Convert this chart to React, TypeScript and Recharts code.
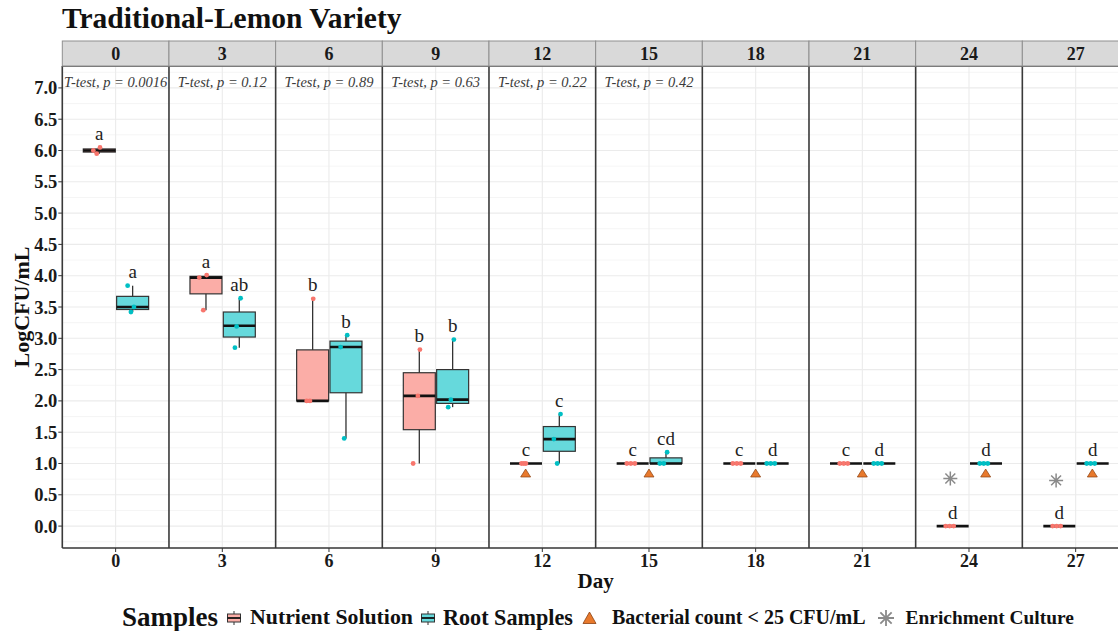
import React from "react";
import {
  ComposedChart,
  Bar,
  Scatter,
  XAxis,
  YAxis,
  CartesianGrid,
  ReferenceLine,
  Legend,
} from "recharts";

const FONT = '"Liberation Serif", "Times New Roman", serif';

// facet labels (day of sampling)
const days = ["0", "3", "6", "9", "12", "15", "18", "21", "24", "27"];

// box stats per day: [min, q1, median, q3, max]
const nutrientBox = [
  [5.95, 5.975, 6.0, 6.025, 6.05],
  [3.45, 3.71, 3.97, 3.99, 4.01],
  [2.0, 2.0, 2.0, 2.815, 3.63],
  [1.0, 1.54, 2.08, 2.45, 2.82],
  [1, 1, 1, 1, 1],
  [1, 1, 1, 1, 1],
  [1, 1, 1, 1, 1],
  [1, 1, 1, 1, 1],
  [0, 0, 0, 0, 0],
  [0, 0, 0, 0, 0],
];
const rootBox = [
  [3.42, 3.46, 3.5, 3.67, 3.84],
  [2.85, 3.02, 3.2, 3.42, 3.64],
  [1.4, 2.13, 2.86, 2.955, 3.05],
  [1.9, 1.96, 2.02, 2.5, 2.98],
  [1.0, 1.195, 1.39, 1.59, 1.79],
  [1.0, 1.0, 1.0, 1.09, 1.18],
  [1, 1, 1, 1, 1],
  [1, 1, 1, 1, 1],
  [1, 1, 1, 1, 1],
  [1, 1, 1, 1, 1],
];

// compact letter display
const nutrientLetters = ["a", "a", "b", "b", "c", "c", "c", "c", "d", "d"];
const rootLetters = ["a", "ab", "b", "b", "c", "cd", "d", "d", "d", "d"];

// t-test results (first six days only)
const pValues = ["0.0016", "0.12", "0.89", "0.63", "0.22", "0.42"];

// jittered replicates (x in facet units, y = LogCFU/mL)
const nutrientPoints = [
  { x: 0.349, y: 6.0 }, { x: 0.387, y: 5.95 }, { x: 0.424, y: 6.05 },
  { x: 1.541, y: 3.97 }, { x: 1.624, y: 4.01 }, { x: 1.586, y: 3.45 },
  { x: 2.823, y: 3.63 }, { x: 2.749, y: 2.0 }, { x: 2.786, y: 2.0 },
  { x: 4.023, y: 2.82 }, { x: 3.947, y: 1.0 }, { x: 4.0, y: 2.08 },
  { x: 5.166, y: 1 }, { x: 5.215, y: 1 }, { x: 5.192, y: 1 },
  { x: 6.351, y: 1 }, { x: 6.396, y: 1 }, { x: 6.441, y: 1 },
  { x: 7.543, y: 1 }, { x: 7.588, y: 1 }, { x: 7.633, y: 1 },
  { x: 8.746, y: 1 }, { x: 8.791, y: 1 }, { x: 8.836, y: 1 },
  { x: 9.938, y: 0 }, { x: 9.983, y: 0 }, { x: 10.028, y: 0 },
  { x: 11.141, y: 0 }, { x: 11.186, y: 0 }, { x: 11.231, y: 0 },
];
const rootPoints = [
  { x: 0.735, y: 3.84 }, { x: 0.772, y: 3.42 }, { x: 0.806, y: 3.5 },
  { x: 2.006, y: 3.64 }, { x: 1.961, y: 3.19 }, { x: 1.942, y: 2.85 },
  { x: 3.205, y: 3.05 }, { x: 3.131, y: 2.86 }, { x: 3.171, y: 1.4 },
  { x: 4.405, y: 2.98 }, { x: 4.341, y: 1.9 }, { x: 4.371, y: 2.02 },
  { x: 5.605, y: 1.79 }, { x: 5.567, y: 1.0 }, { x: 5.53, y: 1.39 },
  { x: 6.804, y: 1.18 }, { x: 6.722, y: 1.0 }, { x: 6.767, y: 1.0 },
  { x: 7.925, y: 1 }, { x: 7.97, y: 1 }, { x: 8.015, y: 1 },
  { x: 9.128, y: 1 }, { x: 9.173, y: 1 }, { x: 9.218, y: 1 },
  { x: 10.321, y: 1 }, { x: 10.366, y: 1 }, { x: 10.411, y: 1 },
  { x: 11.524, y: 1 }, { x: 11.569, y: 1 }, { x: 11.614, y: 1 },
];

// bacterial count < 25 CFU/mL markers
const lowCountMarks = [
  { x: 5.2125, y: 0.84 },
  { x: 6.6, y: 0.84 },
  { x: 7.8, y: 0.84 },
  { x: 9.0, y: 0.84 },
  { x: 10.3875, y: 0.84 },
  { x: 11.5875, y: 0.84 },
];

// enrichment culture markers
const enrichmentMarks = [
  { x: 9.99, y: 0.76 },
  { x: 11.18, y: 0.73 },
];

const yTicks = [0, 0.5, 1, 1.5, 2, 2.5, 3, 3.5, 4, 4.5, 5, 5.5, 6, 6.5, 7];
const yMinorTicks = [-0.25, 0.25, 0.75, 1.25, 1.75, 2.25, 2.75, 3.25, 3.75, 4.25, 4.75, 5.25, 5.75, 6.25, 6.75, 7.25];

// layout
const PANEL = 1.2; // x units per facet
const DODGE = 0.1875;
const Y_DOMAIN: [number, number] = [-0.35, 7.35];
const X_DOMAIN: [number, number] = [0, days.length * PANEL];
const PLOT_LEFT = 62.3;
const PLOT_RIGHT = 1129;
const PANEL_PX = (PLOT_RIGHT - PLOT_LEFT) / days.length;

const NUT_FILL = "#fbada7";
const ROOT_FILL = "#66d9dc";
const NUT_DOT = "#F8766D";
const ROOT_DOT = "#00BFC4";
const BORDER = "#3a3a3a";

const centers = days.map((_, i) => i * PANEL + PANEL / 2);
const borders = [...days.map((_, i) => i * PANEL), days.length * PANEL];
const pLabels = pValues.map((p, i) => ({ x: centers[i], y: 7.09, label: `T-test, p = ${p}` }));

const boxRows = days.flatMap((_, i) => [
  {
    x: centers[i] - DODGE,
    whisker: [nutrientBox[i][0], nutrientBox[i][4]],
    box: [nutrientBox[i][1], nutrientBox[i][3]],
    median: nutrientBox[i][2],
    fill: NUT_FILL,
    letter: nutrientLetters[i],
  },
  {
    x: centers[i] + DODGE,
    whisker: [rootBox[i][0], rootBox[i][4]],
    box: [rootBox[i][1], rootBox[i][3]],
    median: rootBox[i][2],
    fill: ROOT_FILL,
    letter: rootLetters[i],
  },
]);

const WhiskerShape = (props: any) => {
  const { x, y, width, height } = props;
  const p = props.payload ?? props;
  const top = Math.min(y, y + height);
  const h = Math.abs(height);
  const cx = x + width / 2;
  return (
    <g>
      <line x1={cx} x2={cx} y1={top} y2={top + h} stroke="#333" strokeWidth={1.3} />
      <text x={cx} y={top - 14} textAnchor="middle" dominantBaseline="central" fontFamily={FONT} fontSize={19} fill="#222">
        {p.letter}
      </text>
    </g>
  );
};

const BoxShape = (props: any) => {
  const { x, y, width, height } = props;
  const p = props.payload ?? props;
  const top = Math.min(y, y + height);
  const h = Math.abs(height);
  const [q1, q3] = p.box;
  const my = q3 > q1 ? top + (h * (q3 - p.median)) / (q3 - q1) : top;
  return (
    <g>
      <rect x={x} y={top} width={width} height={h} fill={p.fill} stroke="#333" strokeWidth={1.2} />
      <line x1={x} x2={x + width} y1={my} y2={my} stroke="#111" strokeWidth={2.6} />
    </g>
  );
};

const dotShape = (color: string) => (props: any) => <circle cx={props.cx} cy={props.cy} r={2.4} fill={color} />;

const TriangleShape = (props: any) => {
  const { cx, cy } = props;
  return <path d={`M${cx},${cy - 4.5} L${cx + 5},${cy + 3.5} L${cx - 5},${cy + 3.5} Z`} fill="#E8792C" stroke="#8a4010" strokeWidth={0.7} />;
};

const asteriskPath = (cx: number, cy: number, r: number) => {
  const d = r * 0.7071;
  return `M${cx},${cy - r}L${cx},${cy + r}M${cx - r},${cy}L${cx + r},${cy}M${cx - d},${cy - d}L${cx + d},${cy + d}M${cx - d},${cy + d}L${cx + d},${cy - d}`;
};

const AsteriskShape = (props: any) => <path d={asteriskPath(props.cx, props.cy, 7)} stroke="#8a8a8a" strokeWidth={1.5} fill="none" />;

const PLabelShape = (props: any) => (
  <text x={props.cx} y={props.cy} textAnchor="middle" dominantBaseline="central" fontFamily={FONT} fontStyle="italic" fontSize={14.5} fill="#3a3a3a">
    {(props.payload ?? props).label}
  </text>
);

const StripTick = (props: any) => {
  const { x, y, index } = props;
  return (
    <g>
      <rect x={x - PANEL_PX / 2} y={y - 25} width={PANEL_PX} height={25} fill="#d9d9d9" stroke="#8f8f8f" strokeWidth={1} />
      <text x={x} y={y - 12} textAnchor="middle" dominantBaseline="central" fontFamily={FONT} fontWeight="bold" fontSize={18} fill="#1a1a1a">
        {days[index]}
      </text>
    </g>
  );
};

const YTitle = (props: any) => {
  const vb = props.viewBox ?? { x: 0, y: 66, width: 62, height: 482 };
  const cx = vb.x + 21;
  const cy = vb.y + vb.height / 2;
  return (
    <text x={cx} y={cy} transform={`rotate(-90 ${cx} ${cy})`} textAnchor="middle" dominantBaseline="central" fontFamily={FONT} fontWeight="bold" fontSize={22} fill="#111">
      LogCFU/mL
    </text>
  );
};

const BoxKey = ({ fill }: { fill: string }) => (
  <svg width={16} height={14} style={{ display: "block" }}>
    <line x1={8} x2={8} y1={0} y2={14} stroke="#333" strokeWidth={1} />
    <rect x={1.5} y={3} width={13} height={8} fill={fill} stroke="#333" strokeWidth={1} />
    <line x1={1.5} x2={14.5} y1={7} y2={7} stroke="#111" strokeWidth={1.8} />
  </svg>
);

const LegendContent = () => (
  <div
    style={{
      display: "flex",
      alignItems: "center",
      height: 38,
      paddingTop: 11,
      paddingLeft: 122,
      boxSizing: "border-box",
      fontFamily: FONT,
      fontWeight: "bold",
      color: "#111",
      whiteSpace: "nowrap",
      lineHeight: "27px",
    }}
  >
    <span style={{ fontSize: 27 }}>Samples</span>
    <span style={{ marginLeft: 8 }}><BoxKey fill={NUT_FILL} /></span>
    <span style={{ fontSize: 21.8, marginLeft: 8 }}>Nutrient Solution</span>
    <span style={{ marginLeft: 7 }}><BoxKey fill={ROOT_FILL} /></span>
    <span style={{ fontSize: 22.2, marginLeft: 7 }}>Root Samples</span>
    <span style={{ marginLeft: 9 }}>
      <svg width={15} height={14} style={{ display: "block" }}>
        <path d="M7.5,1 L14,12.5 L1,12.5 Z" fill="#E8792C" stroke="#8a4010" strokeWidth={0.8} />
      </svg>
    </span>
    <span style={{ fontSize: 20, marginLeft: 15 }}>Bacterial count &lt; 25 CFU/mL</span>
    <span style={{ marginLeft: 10 }}>
      <svg width={20} height={20} style={{ display: "block" }}>
        <path d={asteriskPath(10, 10, 8)} stroke="#8a8a8a" strokeWidth={1.8} fill="none" />
      </svg>
    </span>
    <span style={{ fontSize: 19.4, marginLeft: 10 }}>Enrichment Culture</span>
  </div>
);

export default function App() {
  return (
    <div style={{ position: "fixed", left: 0, top: 0, width: 1118, height: 631, overflow: "hidden", background: "#fff" }}>
      <div
        style={{
          position: "absolute",
          left: 62,
          top: 4,
          fontFamily: FONT,
          fontWeight: "bold",
          fontSize: 29.5,
          lineHeight: "29px",
          color: "#111",
          whiteSpace: "nowrap",
          zIndex: 2,
        }}
      >
        Traditional-Lemon Variety
      </div>
      <ComposedChart width={1140} height={631} data={boxRows} margin={{ top: 41, right: 11, bottom: 0, left: 0 }}>
        <XAxis
          xAxisId="main"
          type="number"
          dataKey="x"
          domain={X_DOMAIN}
          ticks={centers}
          interval={0}
          tickFormatter={(_v: number, i: number) => days[i]}
          height={45}
          axisLine={false}
          tickSize={4}
          tickMargin={2}
          tickLine={{ stroke: "#333" }}
          tick={{ fontSize: 18, fontFamily: FONT, fontWeight: "bold", fill: "#1a1a1a" }}
          label={{ value: "Day", position: "insideBottom", offset: 5, style: { fontSize: 21, fontFamily: FONT, fontWeight: "bold", fill: "#111" } }}
        />
        {/* separate hidden axes so the box layers keep their own band size */}
        <XAxis xAxisId="w" type="number" dataKey="x" domain={X_DOMAIN} height={0} hide />
        <XAxis xAxisId="b" type="number" dataKey="x" domain={X_DOMAIN} height={0} hide />
        <XAxis
          xAxisId="strip"
          orientation="top"
          type="number"
          dataKey="x"
          domain={X_DOMAIN}
          ticks={centers}
          interval={0}
          height={25}
          tickSize={0}
          tickMargin={0}
          axisLine={false}
          tickLine={false}
          tick={(p: any) => <StripTick {...p} />}
        />
        <YAxis
          yAxisId="main"
          type="number"
          dataKey="y"
          domain={Y_DOMAIN}
          allowDataOverflow
          ticks={yTicks}
          interval={0}
          width={PLOT_LEFT}
          axisLine={false}
          tickSize={4}
          tickMargin={1}
          tickLine={{ stroke: "#333" }}
          tickFormatter={(v: number) => v.toFixed(1)}
          tick={{ fontSize: 18.5, fontFamily: FONT, fontWeight: "bold", fill: "#1a1a1a" }}
          label={{ content: YTitle }}
        />
        <YAxis yAxisId="minor" type="number" domain={Y_DOMAIN} allowDataOverflow ticks={yMinorTicks} interval={0} width={0} hide />

        <CartesianGrid xAxisId="main" yAxisId="minor" vertical={false} stroke="#f3f3f3" strokeWidth={0.8} />
        <CartesianGrid xAxisId="main" yAxisId="main" stroke="#ebebeb" strokeWidth={1.1} />

        <Bar xAxisId="w" yAxisId="main" dataKey="whisker" barSize={32} shape={WhiskerShape} isAnimationActive={false} />
        <Bar xAxisId="b" yAxisId="main" dataKey="box" barSize={32} shape={BoxShape} isAnimationActive={false} />

        <Scatter xAxisId="main" yAxisId="main" data={nutrientPoints} dataKey="y" shape={dotShape(NUT_DOT)} isAnimationActive={false} />
        <Scatter xAxisId="main" yAxisId="main" data={rootPoints} dataKey="y" shape={dotShape(ROOT_DOT)} isAnimationActive={false} />
        <Scatter xAxisId="main" yAxisId="main" data={lowCountMarks} dataKey="y" shape={TriangleShape} isAnimationActive={false} />
        <Scatter xAxisId="main" yAxisId="main" data={enrichmentMarks} dataKey="y" shape={AsteriskShape} isAnimationActive={false} />
        <Scatter xAxisId="main" yAxisId="main" data={pLabels} dataKey="y" shape={PLabelShape} isAnimationActive={false} />

        {borders.map((b) => (
          <ReferenceLine key={b} xAxisId="main" yAxisId="main" x={b} stroke={BORDER} strokeWidth={1.6} />
        ))}
        <ReferenceLine xAxisId="main" yAxisId="main" y={Y_DOMAIN[1]} stroke={BORDER} strokeWidth={1.6} />
        <ReferenceLine xAxisId="main" yAxisId="main" y={Y_DOMAIN[0]} stroke={BORDER} strokeWidth={1.6} />

        <Legend verticalAlign="bottom" height={38} content={() => <LegendContent />} />
      </ComposedChart>
    </div>
  );
}
